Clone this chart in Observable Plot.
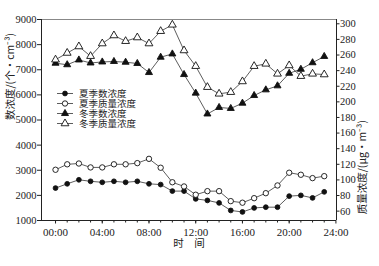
<!DOCTYPE html>
<html>
<head>
<meta charset="utf-8">
<script src="https://cdn.jsdelivr.net/npm/d3@7"></script>
<script src="https://cdn.jsdelivr.net/npm/@observablehq/plot@0.6"></script>
<style>
  html, body { margin: 0; padding: 0; background: #fff; }
  #wrap { position: relative; width: 379px; height: 266px; }
  #legend { position: absolute; left: 0; top: 0; }
</style>
</head>
<body>
<div id="wrap"></div>
<script>
// ---- data ----
const hours = [0,1,2,3,4,5,6,7,8,9,10,11,12,13,14,15,16,17,18,19,20,21,22,23];
const seriesNames = ["夏季数浓度", "夏季质量浓度", "冬季数浓度", "冬季质量浓度"];
const summerCount = [2290, 2460, 2620, 2560, 2520, 2560, 2520, 2560, 2460, 2430, 2170, 2170, 1860, 1800, 1700, 1400, 1340, 1500, 1530, 1530, 1970, 2000, 1900, 2140];
const summerMass  = [113, 120, 121, 116, 116, 120, 120, 121.5, 127, 115.6, 97, 91.6, 81, 85.6, 85.6, 72.8, 70.8, 76.6, 83, 92.9, 109.2, 106.6, 102.3, 104.8];
const winterCount = [7260, 7200, 7390, 7270, 7310, 7330, 7300, 7250, 6890, 7500, 7630, 6810, 6070, 5240, 5500, 5460, 5670, 5975, 6200, 6360, 6860, 7020, 7280, 7530];
const winterMass  = [254, 262.6, 270.9, 258.5, 274.7, 285, 277.7, 282.4, 274.7, 290.5, 298.7, 265.8, 245.7, 218.8, 210.3, 212.4, 226.1, 245.7, 248.7, 235.9, 246.6, 232.9, 235.9, 235];
const xTickHours = [0, 4, 8, 12, 16, 20, 24];
const xTickLabels = ["00:00", "04:00", "08:00", "12:00", "16:00", "20:00", "24:00"];
const leftTicks = [1000, 2000, 3000, 4000, 5000, 6000, 7000, 8000, 9000];
const rightTicks = [60, 80, 100, 120, 140, 160, 180, 200, 220, 240, 260, 280, 300];
const xLabel = "时　间";
const yLeftLabel = "数浓度/(个·cm⁻³)";
const yRightLabel = "质量浓度/(μg·m⁻³)";

// ---- scales / helpers ----
const xDomain = [-1.2, 24.05];
const yDomain = [1000, 9000];
const rDomain = [48, 305.5];
const toLeft = v => yDomain[0] + (v - rDomain[0]) / (rDomain[1] - rDomain[0]) * (yDomain[1] - yDomain[0]);

const mk = (vals, conv) => hours.map((h, i) => ({h, v: conv ? toLeft(vals[i]) : vals[i]}));
const sc = mk(summerCount, false), sm = mk(summerMass, true), wc = mk(winterCount, false), wm = mk(winterMass, true);

const styles = [
  {symbol: "circle",   fill: "#111", r: 2.4},
  {symbol: "circle",   fill: "#fff", r: 2.7},
  {symbol: "triangle", fill: "#111", r: 2.6},
  {symbol: "triangle", fill: "#fff", r: 2.9}
];
const dataSets = [sc, sm, wc, wm];

const serif = "'Liberation Serif', 'Times New Roman', serif";
const cjk = "'Noto Sans CJK SC', sans-serif";
const lineCol = "#333";
const marks = [];
dataSets.forEach((d, i) => {
  marks.push(Plot.line(d, {x: "h", y: "v", stroke: lineCol, strokeWidth: 0.8}));
});
dataSets.forEach((d, i) => {
  const s = styles[i];
  marks.push(Plot.dot(d, {x: "h", y: "v", symbol: s.symbol, r: s.r, fill: s.fill, stroke: "#111", strokeWidth: 0.9}));
});

const fmtX = d => xTickLabels[xTickHours.indexOf(d)];
const chart = Plot.plot({
  width: 379, height: 266,
  marginLeft: 41, marginRight: 43, marginTop: 19, marginBottom: 46,
  x: {domain: xDomain, axis: null},
  y: {domain: yDomain, axis: null},
  style: {fontFamily: serif, fontSize: "10.5px", color: "#222", background: "#fff", overflow: "visible"},
  marks: [
    Plot.ruleY([yDomain[1]], {stroke: "#888", strokeWidth: 1}),
    Plot.ruleY([yDomain[0]], {stroke: "#222", strokeWidth: 1}),
    Plot.ruleX([xDomain[0]], {stroke: "#222", strokeWidth: 1}),
    Plot.ruleX([xDomain[1]], {stroke: "#222", strokeWidth: 1}),
    // x axis
    Plot.axisX(xTickHours, {tickSize: 3.5, tickPadding: 4, tickFormat: fmtX, label: null, fontSize: 11, fontFamily: serif}),
    Plot.axisX(hours, {tickSize: 2.5, tickFormat: () => "", label: null}),
    // left axis
    Plot.axisY(leftTicks, {anchor: "left", tickSize: 4, tickPadding: 1, tickFormat: d => String(d), label: null, fontFamily: serif}),
    // right axis
    Plot.axisY(rightTicks.map(toLeft), {anchor: "right", tickSize: 2.5, tickPadding: 1, tickFormat: (d, i) => String(rightTicks[i]), label: null, fontFamily: serif}),
    ...marks,
    Plot.text([xLabel], {frameAnchor: "bottom", dy: 26, fontFamily: cjk, fontSize: 10.5, fill: "#222"}),
    Plot.text([yLeftLabel], {frameAnchor: "left", dx: -31, rotate: -90, fontFamily: cjk, fontSize: 10.5, fill: "#222"}),
    Plot.text([yRightLabel], {frameAnchor: "right", dx: 26, rotate: -90, fontFamily: cjk, fontSize: 10.5, fill: "#222"})
  ]
});
const wrap = document.getElementById("wrap");
wrap.appendChild(chart);

// ---- legend ----
const lg = d3.select(wrap).append("svg").attr("id", "legend").attr("width", 379).attr("height", 266);
const rowY0 = 93.5, rowStep = 10;
seriesNames.forEach((name, i) => {
  const g = lg.append("g").attr("transform", `translate(0,${rowY0 + i * rowStep})`);
  g.append("line").attr("x1", 57).attr("x2", 73).attr("stroke", lineCol).attr("stroke-width", 0.8);
  const s = styles[i];
  const sym = s.symbol === "circle" ? d3.symbolCircle : d3.symbolTriangle;
  g.append("path").attr("transform", "translate(65,0)")
    .attr("d", d3.symbol(sym, Math.PI * s.r * s.r)())
    .attr("fill", s.fill).attr("stroke", "#111").attr("stroke-width", 0.9);
});
// one multi-line text block for the legend labels
const lt = lg.append("text").attr("font-family", cjk).attr("font-size", 9.5).attr("fill", "#222");
seriesNames.forEach((name, i) => {
  lt.append("tspan").attr("x", 79).attr("y", rowY0 + i * rowStep).attr("dy", "0.35em").text(name);
});
</script>
</body>
</html>
